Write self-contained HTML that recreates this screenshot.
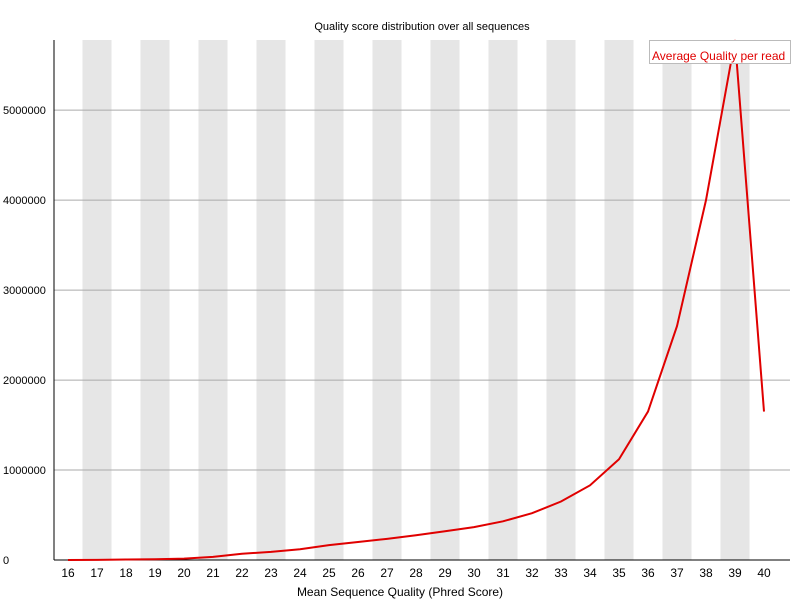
<!DOCTYPE html>
<html><head><meta charset="utf-8"><style>
body{margin:0;background:#fff;}
svg text{font-family:"Liberation Sans",sans-serif;font-size:12px;fill:#000;}
svg text.sm{font-size:11px;}
</style></head><body>
<svg id="chart" width="800" height="600" xmlns="http://www.w3.org/2000/svg">
<text x="422" y="30" text-anchor="middle" class="sm">Quality score distribution over all sequences</text>
<g id="bands"></g><g id="grid"></g><g id="ticks"></g>
<line x1="54" y1="40" x2="54" y2="560" stroke="#000"/>
<line x1="54" y1="560" x2="790" y2="560" stroke="#000"/>
<polyline id="line" fill="none" stroke="#e00000" stroke-width="2"/>
<g>
<rect x="649.5" y="40.5" width="141" height="23" fill="#fff" stroke="#bbb"/>
<text x="652" y="60" style="fill:#e00000">Average Quality per read</text>
</g>
<text x="400" y="596" text-anchor="middle">Mean Sequence Quality (Phred Score)</text>
</svg>
<script>
const categories=[16,17,18,19,20,21,22,23,24,25,26,27,28,29,30,31,32,33,34,35,36,37,38,39,40];
const counts=[0,2000,5000,8000,15000,35000,70000,90000,120000,165000,200000,235000,275000,320000,365000,430000,520000,650000,830000,1120000,1650000,2600000,4000000,5780000,1650000];
const yTicks=[0,1000000,2000000,3000000,4000000,5000000];
const ns="http://www.w3.org/2000/svg";
const x0=68,dx=29,y0=560,ymax=5780000,ytop=40;
const xs=i=>x0+i*dx;
const ys=v=>y0-(v/ymax)*(y0-ytop);
function mk(t,a){const e=document.createElementNS(ns,t);for(const k in a)e.setAttribute(k,a[k]);return e;}
const bands=document.getElementById('bands'),grid=document.getElementById('grid'),ticks=document.getElementById('ticks');
categories.forEach((c,i)=>{
 if(i%2===1){const r=mk('rect',{x:xs(i)-14.5,y:40,width:29,height:520,fill:'#e6e6e6'});
 
 
 bands.appendChild(r);}
 const t=mk('text',{x:xs(i),y:577,'text-anchor':'middle'});t.textContent=c;
 
 
 ticks.appendChild(t);
});
yTicks.forEach(v=>{
 const y=ys(v);
 if(v>0){const l=mk('line',{x1:54,x2:790,y1:y,y2:y,stroke:'#aaa'});
 
 
 grid.appendChild(l);}
 const t=mk('text',{x:3,y:y+4,class:'sm'});t.textContent=v;
 
 
 ticks.appendChild(t);
});
document.getElementById('line').setAttribute('points',counts.map((v,i)=>xs(i)+','+ys(v)).join(' '));
</script>
</body></html>
